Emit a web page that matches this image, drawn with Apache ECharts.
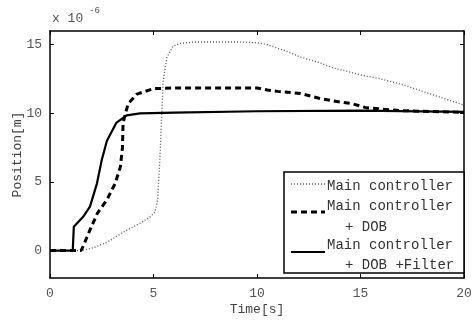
<!DOCTYPE html>
<html>
<head>
    <meta charset="utf-8">
    <title>Position response</title>
    <script src="https://cdn.jsdelivr.net/npm/echarts@6/dist/echarts.min.js"></script>
    <style>
        *{ margin:0; padding:0; }
        #main{ width:474px; height:320px; background:#fff; }
    </style>
</head>
<body>
<div id="main"></div>
<script type="text/javascript">
    // values in 1e-6 m
    var tMain = [0, 1.5, 2.1, 2.75, 3.5, 4.35, 4.8, 5.07, 5.2, 5.3, 5.4, 5.47, 5.65, 5.95, 6.3, 7, 8, 9, 10, 10.5, 11.3, 12.1, 13, 13.7, 14.5, 15, 16, 17, 18, 19, 20];
    var vMain = [0, 0, 0.2, 0.6, 1.3, 2.0, 2.4, 2.8, 3.7, 6.4, 10, 12.4, 14.1, 14.9, 15.1, 15.2, 15.2, 15.2, 15.15, 15.0, 14.6, 14.1, 13.7, 13.3, 13.0, 12.8, 12.5, 12.1, 11.6, 11.1, 10.6];

    var tDob = [0, 1.5, 1.6, 1.93, 2.3, 2.75, 3.15, 3.4, 3.5, 3.53, 3.77, 4.2, 5, 6, 8, 10, 10.5, 11, 12.1, 13, 13.7, 14.6, 15.3, 16.9, 18, 20];
    var vDob = [0, 0, 0.3, 1.5, 2.75, 3.7, 4.9, 6.1, 7.5, 9.3, 10.7, 11.4, 11.8, 11.85, 11.85, 11.85, 11.7, 11.6, 11.45, 11.1, 10.9, 10.7, 10.4, 10.2, 10.15, 10.07];

    var tFilt = [0, 1.1, 1.15, 1.6, 1.93, 2.27, 2.5, 2.75, 3.2, 3.7, 4.35, 6, 10, 15, 20];
    var vFilt = [0, 0, 1.74, 2.46, 3.2, 4.9, 6.6, 8.0, 9.3, 9.85, 10.0, 10.05, 10.15, 10.2, 10.1];

    var yTicks = [0, 5, 10, 15];

    function pairs(t, v){
        var out = [];
        for (var i = 0; i < t.length; i++) out.push([t[i], v[i]]);
        return out;
    }

    var font = 'Liberation Mono';
    var myChart = echarts.init(document.getElementById('main'));

    var line = {show: true, onZero: false, lineStyle: {color: '#000', width: 1.5}};
    var tick = {show: true, inside: true, length: 4, lineStyle: {color: '#000'}};
    var yTick = {show: true, inside: true, length: 4, customValues: yTicks, lineStyle: {color: '#000'}};

    var option = {
        animation: false,
        grid: {left: 50, right: 10, top: 31, bottom: 42, show: false, containLabel: false, outerBoundsMode: 'none'},
        xAxis: [
            {
                type: 'value', min: 0, max: 20, interval: 5, position: 'bottom',
                name: 'Time[s]', nameLocation: 'middle', nameGap: 25, nameMoveOverlap: false,
                nameTextStyle: {fontFamily: font, fontSize: 13, color: '#444'},
                axisLabel: {fontFamily: font, fontSize: 13, color: '#555', margin: 9},
                axisLine: line, axisTick: tick, splitLine: {show: false}
            },
            {
                type: 'value', min: 0, max: 20, interval: 5, position: 'top',
                axisLabel: {show: false},
                axisLine: line, axisTick: tick, splitLine: {show: false}
            }
        ],
        yAxis: [
            {
                type: 'value', min: -2, max: 16, position: 'left',
                name: 'Position[m]', nameLocation: 'middle', nameGap: 26, nameMoveOverlap: false,
                nameTextStyle: {fontFamily: font, fontSize: 13, color: '#444'},
                axisLabel: {fontFamily: font, fontSize: 13, color: '#555', margin: 8, customValues: yTicks},
                axisLine: line, axisTick: yTick, splitLine: {show: false}
            },
            {
                type: 'value', min: -2, max: 16, position: 'right',
                axisLabel: {show: false},
                axisLine: line, axisTick: yTick, splitLine: {show: false}
            }
        ],
        series: [
            {
                name: 'Main controller', type: 'line', showSymbol: false,
                data: pairs(tMain, vMain),
                lineStyle: {color: '#555', width: 1.3, type: [1, 2]}
            },
            {
                name: 'Main controller + DOB', type: 'line', showSymbol: false,
                data: pairs(tDob, vDob),
                lineStyle: {color: '#000', width: 3, type: [6, 4]}
            },
            {
                name: 'Main controller + DOB +Filter', type: 'line', showSymbol: false,
                data: pairs(tFilt, vFilt),
                lineStyle: {color: '#000', width: 2.2}
            }
        ],
        graphic: [
            {type: 'text', left: 52, top: 12, style: {text: 'x 10', font: '13px "' + font + '"', fill: '#555'}},
            {type: 'text', left: 89, top: 6, style: {text: '-6', font: '9px "' + font + '"', fill: '#555'}},
            {type: 'rect', shape: {x: 284, y: 172, width: 180, height: 101},
                style: {fill: '#fff', stroke: '#000', lineWidth: 1.5}, z: 100},
            {type: 'line', shape: {x1: 291, y1: 184, x2: 325, y2: 184},
                style: {stroke: '#555', lineWidth: 1.3, lineDash: [1, 2]}, z: 101},
            {type: 'line', shape: {x1: 291, y1: 212, x2: 325, y2: 212},
                style: {stroke: '#000', lineWidth: 3, lineDash: [6, 4]}, z: 101},
            {type: 'line', shape: {x1: 291, y1: 252, x2: 325, y2: 252},
                style: {stroke: '#000', lineWidth: 2.2}, z: 101},
            {type: 'text', x: 327, y: 186, z: 101, style: {text: 'Main controller', font: '14px "' + font + '"', fill: '#333', verticalAlign: 'middle'}},
            {type: 'text', x: 327, y: 206, z: 101, style: {text: 'Main controller', font: '14px "' + font + '"', fill: '#333', verticalAlign: 'middle'}},
            {type: 'text', x: 345, y: 227, z: 101, style: {text: '+ DOB', font: '14px "' + font + '"', fill: '#333', verticalAlign: 'middle'}},
            {type: 'text', x: 327, y: 245, z: 101, style: {text: 'Main controller', font: '14px "' + font + '"', fill: '#333', verticalAlign: 'middle'}},
            {type: 'text', x: 345, y: 265, z: 101, style: {text: '+ DOB +Filter', font: '14px "' + font + '"', fill: '#333', verticalAlign: 'middle'}}
        ]
    };
    myChart.setOption(option);
</script>
</body>
</html>
